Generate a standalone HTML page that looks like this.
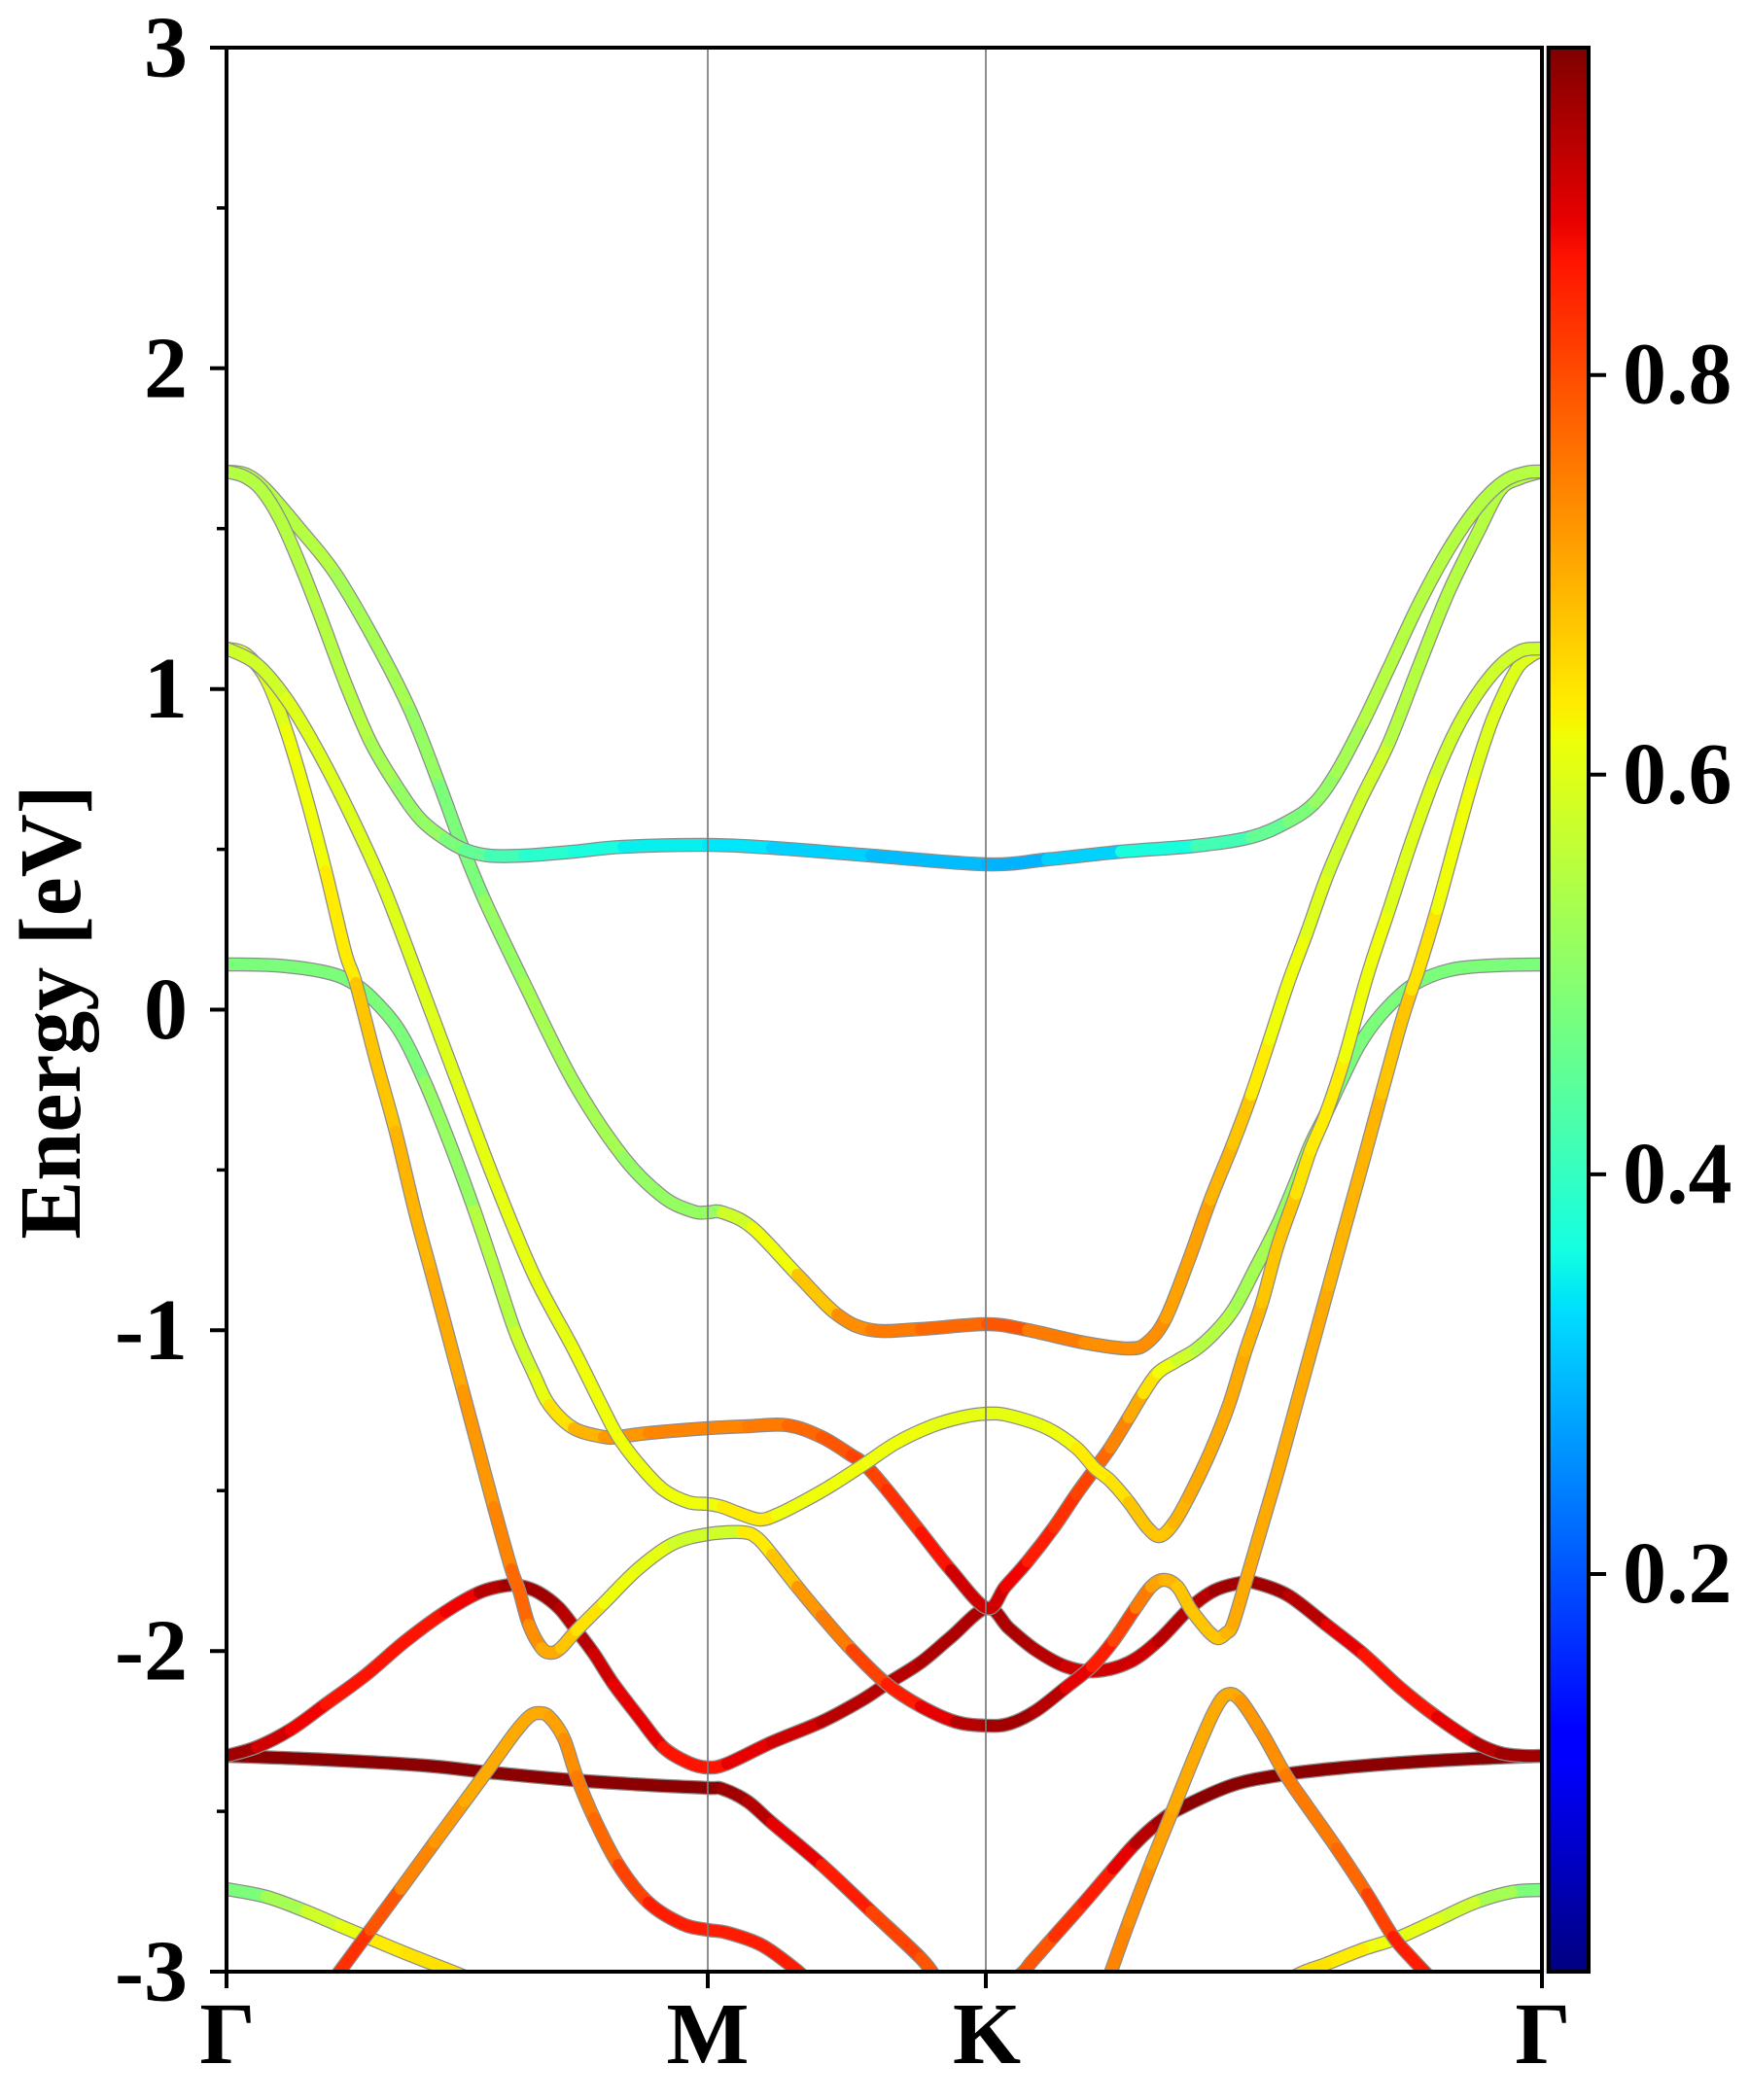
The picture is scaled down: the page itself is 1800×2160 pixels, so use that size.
<!DOCTYPE html>
<html><head><meta charset="utf-8"><style>html,body{margin:0;padding:0;background:#fff}svg{display:block}
.o{fill:none;stroke:#8c8c8c;stroke-width:14.5;stroke-linejoin:round}
.c polyline,.c path{fill:none;stroke-width:12;stroke-linejoin:round;stroke-linecap:round}
text{font-family:"Liberation Serif",serif;font-weight:bold;fill:#000}
</style></head><body>
<svg width="1800" height="2160" viewBox="0 0 1800 2160" xmlns="http://www.w3.org/2000/svg">
<defs>
<clipPath id="pc"><rect x="233" y="49" width="1353" height="1979"/></clipPath>
<linearGradient id="jet" x1="0" y1="1" x2="0" y2="0">
<stop offset="0" stop-color="#000080"/><stop offset="0.11" stop-color="#0000ff"/><stop offset="0.125" stop-color="#0000ff"/>
<stop offset="0.34" stop-color="#00dbff"/><stop offset="0.35" stop-color="#00e6f7"/><stop offset="0.375" stop-color="#14ffe2"/>
<stop offset="0.64" stop-color="#eeff08"/><stop offset="0.65" stop-color="#f7f500"/><stop offset="0.66" stop-color="#ffec00"/>
<stop offset="0.89" stop-color="#ff1300"/><stop offset="0.91" stop-color="#e80000"/><stop offset="1" stop-color="#800000"/>
</linearGradient>
</defs>
<rect width="1800" height="2160" fill="#fff"/>
<g clip-path="url(#pc)">
<!-- T7 left -->
<g class="band">
<polyline class="o" points="233,1806 335,1810 437,1816 503,1823 590,1831 667,1836 728,1839 743,1840 769,1853 794,1875 845,1918 896,1966 947,2014 963,2035"/>
<g class="c">
<polyline stroke="#8b0000" points="233,1806 335,1810 437,1816 503,1823 590,1831 667,1836 728,1839 743,1840"/>
<polyline stroke="#a20000" points="743,1840 769,1853"/>
<polyline stroke="#b90000" points="769,1853 794,1875"/>
<polyline stroke="#e80000" points="794,1875 845,1918"/>
<polyline stroke="#ff1c00" points="845,1918 896,1966"/>
<polyline stroke="#ff4200" points="896,1966 947,2014"/>
<polyline stroke="#ff5500" points="947,2014 963,2035"/>
</g></g>
<!-- T7 right -->
<g class="band">
<polyline class="o" points="1045,2035 1054,2027 1061,2018 1084,1992 1115,1957 1145,1922 1168,1896 1191,1875 1214,1860 1268,1836 1322,1825 1383,1818 1459,1812 1536,1808 1586,1806"/>
<g class="c">
<polyline stroke="#ff5500" points="1045,2035 1054,2027 1061,2018 1084,1992"/>
<polyline stroke="#ff2f00" points="1084,1992 1115,1957"/>
<polyline stroke="#ff1c00" points="1115,1957 1145,1922"/>
<polyline stroke="#e80000" points="1145,1922 1168,1896"/>
<polyline stroke="#b90000" points="1168,1896 1191,1875"/>
<polyline stroke="#a20000" points="1191,1875 1214,1860"/>
<polyline stroke="#8b0000" points="1214,1860 1268,1836 1322,1825 1383,1818 1459,1812 1536,1808 1586,1806"/>
</g></g>
<!-- T6 -->
<g class="band">
<polyline class="o" points="233,1806 264,1797 299,1779 335,1753 376,1723 417,1688 458,1658 493,1638 519,1631 534,1631 554,1638 575,1654 593,1677 611,1701 631,1732 657,1766 682,1797 708,1813 728,1818 748,1814 794,1792 845,1771 886,1749 912,1732 947,1710 978,1684 1015,1654 1038,1675 1065,1697 1096,1714 1126,1719 1161,1710 1191,1688 1224,1654 1249,1636 1276,1628 1291,1628 1325,1641 1364,1671 1402,1701 1440,1736 1478,1766 1517,1792 1543,1803 1566,1806 1586,1806"/>
<g class="c">
<polyline stroke="#a20000" points="233,1806 264,1797"/>
<polyline stroke="#d10000" points="264,1797 299,1779"/>
<polyline stroke="#f30000" points="299,1779 335,1753"/>
<polyline stroke="#ff1300" points="335,1753 376,1723 417,1688 458,1658"/>
<polyline stroke="#f30000" points="458,1658 493,1638"/>
<polyline stroke="#b90000" points="493,1638 519,1631"/>
<polyline stroke="#a20000" points="519,1631 534,1631 554,1638 575,1654"/>
<polyline stroke="#b90000" points="575,1654 593,1677 611,1701"/>
<polyline stroke="#d10000" points="611,1701 631,1732"/>
<polyline stroke="#e80000" points="631,1732 657,1766 682,1797"/>
<polyline stroke="#ff1300" points="682,1797 708,1813 728,1818 748,1814"/>
<polyline stroke="#e80000" points="748,1814 794,1792"/>
<polyline stroke="#d10000" points="794,1792 845,1771"/>
<polyline stroke="#b90000" points="845,1771 886,1749 912,1732 947,1710"/>
<polyline stroke="#ae0000" points="947,1710 978,1684 1015,1654 1038,1675 1065,1697"/>
<polyline stroke="#b90000" points="1065,1697 1096,1714"/>
<polyline stroke="#d10000" points="1096,1714 1126,1719 1161,1710 1191,1688"/>
<polyline stroke="#b90000" points="1191,1688 1224,1654 1249,1636"/>
<polyline stroke="#a20000" points="1249,1636 1276,1628 1291,1628 1325,1641"/>
<polyline stroke="#b90000" points="1325,1641 1364,1671"/>
<polyline stroke="#e80000" points="1364,1671 1402,1701"/>
<polyline stroke="#ff1300" points="1402,1701 1440,1736 1478,1766"/>
<polyline stroke="#e80000" points="1478,1766 1517,1792"/>
<polyline stroke="#b90000" points="1517,1792 1543,1803"/>
<polyline stroke="#a20000" points="1543,1803 1566,1806 1586,1806"/>
</g></g>
<!-- T9 -->
<g class="band">
<polyline class="o" points="233,1943 274,1951 315,1966 350,1981 381,1994 417,2009 463,2027 485,2036"/>
<g class="c">
<polyline stroke="#7bff7b" points="233,1943 274,1951"/>
<polyline stroke="#a5ff52" points="274,1951 315,1966"/>
<polyline stroke="#ceff29" points="315,1966 350,1981"/>
<polyline stroke="#e6ff11" points="350,1981 381,1994"/>
<polyline stroke="#ffec00" points="381,1994 417,2009"/>
<polyline stroke="#ffe300" points="417,2009 463,2027 485,2036"/>
</g></g>
<!-- T11 -->
<g class="band">
<polyline class="o" points="1586,1944 1555,1946 1517,1957 1478,1975 1436,1994 1402,2005 1364,2020 1344,2027 1325,2036"/>
<g class="c">
<polyline stroke="#7bff7b" points="1586,1944 1555,1946"/>
<polyline stroke="#a5ff52" points="1555,1946 1517,1957"/>
<polyline stroke="#ceff29" points="1517,1957 1478,1975"/>
<polyline stroke="#e6ff11" points="1478,1975 1436,1994"/>
<polyline stroke="#eeff08" points="1436,1994 1402,2005"/>
<polyline stroke="#ffec00" points="1402,2005 1364,2020"/>
<polyline stroke="#ffe300" points="1364,2020 1344,2027 1325,2036"/>
</g></g>
<!-- T8 -->
<g class="band">
<polyline class="o" points="343,2036 350,2027 381,1985 412,1943 447,1895 478,1853 503,1819 529,1783 544,1766 554,1762 565,1766 580,1788 593,1827 611,1870 636,1918 667,1957 702,1979 728,1985 748,1988 784,2001 820,2027 828,2036"/>
<g class="c">
<polyline stroke="#ff2f00" points="343,2036 350,2027 381,1985"/>
<polyline stroke="#ff5500" points="381,1985 412,1943"/>
<polyline stroke="#ff8400" points="412,1943 447,1895"/>
<polyline stroke="#ff9700" points="447,1895 478,1853"/>
<polyline stroke="#ffaa00" points="478,1853 503,1819 529,1783 544,1766 554,1762 565,1766"/>
<polyline stroke="#ffa100" points="565,1766 580,1788"/>
<polyline stroke="#ff8e00" points="580,1788 593,1827"/>
<polyline stroke="#ff7b00" points="593,1827 611,1870"/>
<polyline stroke="#ff6800" points="611,1870 636,1918"/>
<polyline stroke="#ff4200" points="636,1918 667,1957"/>
<polyline stroke="#ff1c00" points="667,1957 702,1979 728,1985 748,1988 784,2001 820,2027 828,2036"/>
</g></g>
<!-- T10 -->
<g class="band">
<polyline class="o" points="1139,2036 1142,2030 1161,1977 1184,1917 1207,1860 1230,1803 1249,1760 1262,1743 1276,1749 1299,1784 1322,1825 1344,1857 1375,1901 1406,1948 1433,1992 1452,2014 1467,2030 1472,2036"/>
<g class="c">
<polyline stroke="#ff8400" points="1139,2036 1142,2030 1161,1977"/>
<polyline stroke="#ff8e00" points="1161,1977 1184,1917"/>
<polyline stroke="#ffa100" points="1184,1917 1207,1860"/>
<polyline stroke="#ffaa00" points="1207,1860 1230,1803 1249,1760 1262,1743 1276,1749"/>
<polyline stroke="#ff9700" points="1276,1749 1299,1784"/>
<polyline stroke="#ff8e00" points="1299,1784 1322,1825"/>
<polyline stroke="#ff7b00" points="1322,1825 1344,1857 1375,1901"/>
<polyline stroke="#ff6800" points="1375,1901 1406,1948"/>
<polyline stroke="#ff4200" points="1406,1948 1433,1992"/>
<polyline stroke="#ff1c00" points="1433,1992 1452,2014 1467,2030 1472,2036"/>
</g></g>
<!-- T5 -->
<g class="band">
<polyline class="o" points="233,992 284,993 335,1000 363,1011 386,1030 412,1062 437,1113 463,1177 488,1245 510,1310 530,1370 550,1415 565,1445 590,1469 621,1478 636,1478 667,1474 728,1469 769,1467 810,1466 845,1478 876,1497 889,1506 912,1532 947,1576 978,1615 1015,1654 1034,1632 1057,1606 1084,1571 1107,1537 1126,1511 1142,1489 1161,1458 1176,1433 1191,1412 1210,1400 1230,1388 1250,1370 1270,1345 1291,1305 1314,1260 1333,1215 1348,1177 1364,1145 1379,1113 1398,1075 1421,1043 1452,1014 1490,998 1536,993 1586,992"/>
<g class="c">
<polyline stroke="#7bff7b" points="233,992 284,993 335,1000 363,1011 386,1030 412,1062 437,1113"/>
<polyline stroke="#94ff63" points="437,1113 463,1177 488,1245"/>
<polyline stroke="#b5ff42" points="488,1245 510,1310 530,1370"/>
<polyline stroke="#ceff29" points="530,1370 550,1415"/>
<polyline stroke="#e6ff11" points="550,1415 565,1445"/>
<polyline stroke="#ffe300" points="565,1445 590,1469"/>
<polyline stroke="#ffb400" points="590,1469 621,1478"/>
<polyline stroke="#ff9700" points="621,1478 636,1478 667,1474"/>
<polyline stroke="#ff8400" points="667,1474 728,1469 769,1467"/>
<polyline stroke="#ff7b00" points="769,1467 810,1466"/>
<polyline stroke="#ff6800" points="810,1466 845,1478"/>
<polyline stroke="#ff5500" points="845,1478 876,1497"/>
<polyline stroke="#ff4200" points="876,1497 889,1506 912,1532"/>
<polyline stroke="#ff2f00" points="912,1532 947,1576"/>
<polyline stroke="#ff1300" points="947,1576 978,1615"/>
<polyline stroke="#d10000" points="978,1615 1015,1654 1034,1632"/>
<polyline stroke="#f30000" points="1034,1632 1057,1606"/>
<polyline stroke="#ff1c00" points="1057,1606 1084,1571"/>
<polyline stroke="#ff2f00" points="1084,1571 1107,1537"/>
<polyline stroke="#ff4200" points="1107,1537 1126,1511"/>
<polyline stroke="#ff6800" points="1126,1511 1142,1489"/>
<polyline stroke="#ff8400" points="1142,1489 1161,1458"/>
<polyline stroke="#ffaa00" points="1161,1458 1176,1433"/>
<polyline stroke="#ffe300" points="1176,1433 1191,1412"/>
<polyline stroke="#eeff08" points="1191,1412 1210,1400"/>
<polyline stroke="#ceff29" points="1210,1400 1230,1388"/>
<polyline stroke="#b5ff42" points="1230,1388 1250,1370 1270,1345"/>
<polyline stroke="#a5ff52" points="1270,1345 1291,1305 1314,1260"/>
<polyline stroke="#94ff63" points="1314,1260 1333,1215 1348,1177 1364,1145"/>
<polyline stroke="#7bff7b" points="1364,1145 1379,1113 1398,1075 1421,1043 1452,1014 1490,998 1536,993 1586,992"/>
</g></g>
<!-- T4 -->
<g class="band">
<polyline class="o" points="233,667 253,673 274,699 294,750 315,820 335,896 355,979 366,1011 386,1088 407,1164 427,1247 444,1310 460,1370 476,1430 492,1490 508,1550 526,1614 534,1636 544,1671 557,1695 567,1700 577,1695 593,1677 621,1649 656,1614 692,1588 728,1578 764,1576 779,1582 794,1599 820,1632 845,1662 876,1697 912,1732 947,1755 983,1771 1015,1775 1038,1773 1065,1760 1096,1736 1123,1714 1145,1688 1168,1654 1184,1632 1197,1625 1211,1632 1224,1654 1237,1671 1245,1680 1253,1685 1261,1680 1268,1671 1281,1628 1295,1580 1314,1515 1333,1446 1350,1384 1367,1322 1384,1260 1402,1195 1421,1125 1440,1056 1452,1018 1459,998 1478,935 1498,862 1517,795 1536,738 1559,690 1574,675 1586,669"/>
<g class="c">
<polyline stroke="#deff19" points="233,667 253,673 274,699 294,750"/>
<polyline stroke="#eeff08" points="294,750 315,820 335,896"/>
<polyline stroke="#ffec00" points="335,896 355,979 366,1011"/>
<polyline stroke="#ffc600" points="366,1011 386,1088 407,1164"/>
<polyline stroke="#ffb400" points="407,1164 427,1247 444,1310"/>
<polyline stroke="#ffaa00" points="444,1310 460,1370 476,1430"/>
<polyline stroke="#ff9700" points="476,1430 492,1490 508,1550"/>
<polyline stroke="#ff8400" points="508,1550 526,1614"/>
<polyline stroke="#ff6800" points="526,1614 534,1636 544,1671"/>
<polyline stroke="#ff8e00" points="544,1671 557,1695"/>
<polyline stroke="#ffaa00" points="557,1695 567,1700 577,1695"/>
<polyline stroke="#ffc600" points="577,1695 593,1677"/>
<polyline stroke="#ffe300" points="593,1677 621,1649"/>
<polyline stroke="#eeff08" points="621,1649 656,1614"/>
<polyline stroke="#e6ff11" points="656,1614 692,1588"/>
<polyline stroke="#ceff29" points="692,1588 728,1578 764,1576"/>
<polyline stroke="#ffec00" points="764,1576 779,1582 794,1599"/>
<polyline stroke="#ffc600" points="794,1599 820,1632"/>
<polyline stroke="#ff9700" points="820,1632 845,1662"/>
<polyline stroke="#ff7b00" points="845,1662 876,1697"/>
<polyline stroke="#ff4200" points="876,1697 912,1732"/>
<polyline stroke="#ff1c00" points="912,1732 947,1755"/>
<polyline stroke="#e80000" points="947,1755 983,1771"/>
<polyline stroke="#b90000" points="983,1771 1015,1775"/>
<polyline stroke="#a20000" points="1015,1775 1038,1773 1065,1760"/>
<polyline stroke="#b90000" points="1065,1760 1096,1736"/>
<polyline stroke="#e80000" points="1096,1736 1123,1714"/>
<polyline stroke="#ff1c00" points="1123,1714 1145,1688"/>
<polyline stroke="#ff4200" points="1145,1688 1168,1654"/>
<polyline stroke="#ff7b00" points="1168,1654 1184,1632"/>
<polyline stroke="#ffa100" points="1184,1632 1197,1625"/>
<polyline stroke="#ffb400" points="1197,1625 1211,1632"/>
<polyline stroke="#ffc600" points="1211,1632 1224,1654 1237,1671 1245,1680 1253,1685 1261,1680"/>
<polyline stroke="#ffb400" points="1261,1680 1268,1671"/>
<polyline stroke="#ffaa00" points="1268,1671 1281,1628 1295,1580 1314,1515 1333,1446 1350,1384 1367,1322"/>
<polyline stroke="#ffb400" points="1367,1322 1384,1260 1402,1195 1421,1125"/>
<polyline stroke="#ffc600" points="1421,1125 1440,1056 1452,1018"/>
<polyline stroke="#ffe300" points="1452,1018 1459,998 1478,935"/>
<polyline stroke="#eeff08" points="1478,935 1498,862 1517,795"/>
<polyline stroke="#deff19" points="1517,795 1536,738 1559,690 1574,675 1586,669"/>
</g></g>
<!-- T3 -->
<g class="band">
<polyline class="o" points="233,667 264,683 294,718 325,769 361,839 396,916 437,1024 473,1120 509,1215 549,1311 590,1388 621,1450 636,1478 657,1506 682,1532 708,1545 728,1547 743,1550 764,1558 782,1563 799,1558 825,1545 855,1528 889,1506 922,1484 958,1467 988,1458 1015,1454 1038,1456 1077,1469 1107,1489 1126,1510 1142,1523 1161,1545 1180,1571 1193,1580 1207,1567 1222,1541 1245,1493 1264,1445 1281,1390 1298,1340 1314,1282 1333,1228 1348,1183 1364,1145 1383,1088 1406,1005 1429,935 1452,865 1478,794 1505,737 1536,692 1563,670 1586,667"/>
<g class="c">
<polyline stroke="#ceff29" points="233,667 264,683 294,718"/>
<polyline stroke="#deff19" points="294,718 325,769 361,839 396,916 437,1024 473,1120"/>
<polyline stroke="#e6ff11" points="473,1120 509,1215 549,1311 590,1388"/>
<polyline stroke="#eeff08" points="590,1388 621,1450 636,1478 657,1506 682,1532 708,1545 728,1547 743,1550"/>
<polyline stroke="#ffec00" points="743,1550 764,1558 782,1563 799,1558"/>
<polyline stroke="#eeff08" points="799,1558 825,1545 855,1528 889,1506 922,1484 958,1467"/>
<polyline stroke="#e6ff11" points="958,1467 988,1458 1015,1454 1038,1456 1077,1469"/>
<polyline stroke="#eeff08" points="1077,1469 1107,1489"/>
<polyline stroke="#ffec00" points="1107,1489 1126,1510 1142,1523"/>
<polyline stroke="#ffe300" points="1142,1523 1161,1545"/>
<polyline stroke="#ffc600" points="1161,1545 1180,1571 1193,1580 1207,1567"/>
<polyline stroke="#ffb400" points="1207,1567 1222,1541"/>
<polyline stroke="#ffaa00" points="1222,1541 1245,1493 1264,1445 1281,1390"/>
<polyline stroke="#ffb400" points="1281,1390 1298,1340"/>
<polyline stroke="#ffc600" points="1298,1340 1314,1282 1333,1228"/>
<polyline stroke="#ffe300" points="1333,1228 1348,1183"/>
<polyline stroke="#ffec00" points="1348,1183 1364,1145 1383,1088"/>
<polyline stroke="#eeff08" points="1383,1088 1406,1005 1429,935"/>
<polyline stroke="#deff19" points="1429,935 1452,865 1478,794"/>
<polyline stroke="#ceff29" points="1478,794 1505,737 1536,692 1563,670 1586,667"/>
</g></g>
<!-- T2 -->
<g class="band">
<polyline class="o" points="233,485 253,488 274,504 310,546 345,590 386,660 422,731 452,807 473,864 498,925 539,1011 590,1113 641,1190 682,1231 713,1246 728,1247 743,1247 774,1263 820,1311 861,1352 896,1368 947,1367 1015,1362 1057,1368 1115,1381 1161,1387 1180,1381 1199,1356 1222,1298 1245,1234 1268,1177 1287,1126 1306,1069 1325,1011 1344,960 1367,896 1398,826 1429,763 1459,686 1490,609 1521,546 1543,504 1563,492 1586,485"/>
<g class="c">
<polyline stroke="#b5ff42" points="233,485 253,488 274,504 310,546 345,590"/>
<polyline stroke="#a5ff52" points="345,590 386,660 422,731"/>
<polyline stroke="#94ff63" points="422,731 452,807"/>
<polyline stroke="#7bff7b" points="452,807 473,864 498,925"/>
<polyline stroke="#94ff63" points="498,925 539,1011"/>
<polyline stroke="#a5ff52" points="539,1011 590,1113 641,1190"/>
<polyline stroke="#94ff63" points="641,1190 682,1231 713,1246 728,1247 743,1247"/>
<polyline stroke="#ceff29" points="743,1247 774,1263"/>
<polyline stroke="#eeff08" points="774,1263 820,1311"/>
<polyline stroke="#ffc600" points="820,1311 861,1352"/>
<polyline stroke="#ff8e00" points="861,1352 896,1368"/>
<polyline stroke="#ff7b00" points="896,1368 947,1367"/>
<polyline stroke="#ff6800" points="947,1367 1015,1362"/>
<polyline stroke="#ff5500" points="1015,1362 1057,1368"/>
<polyline stroke="#ff7b00" points="1057,1368 1115,1381"/>
<polyline stroke="#ff8e00" points="1115,1381 1161,1387 1180,1381 1199,1356"/>
<polyline stroke="#ffa100" points="1199,1356 1222,1298 1245,1234"/>
<polyline stroke="#ffb400" points="1245,1234 1268,1177"/>
<polyline stroke="#ffc600" points="1268,1177 1287,1126"/>
<polyline stroke="#ffec00" points="1287,1126 1306,1069"/>
<polyline stroke="#eeff08" points="1306,1069 1325,1011 1344,960"/>
<polyline stroke="#deff19" points="1344,960 1367,896"/>
<polyline stroke="#ceff29" points="1367,896 1398,826 1429,763"/>
<polyline stroke="#b5ff42" points="1429,763 1459,686 1490,609 1521,546 1543,504 1563,492 1586,485"/>
</g></g>
<!-- T1 -->
<g class="band">
<polyline class="o" points="233,485 251,490 269,504 289,536 310,584 330,635 355,702 381,763 407,807 432,842 458,863 478,874 503,880 539,880 590,876 641,871 728,869 794,872 896,880 1014,889 1077,884 1153,876 1230,870 1287,861 1325,845 1352,826 1375,794 1402,743 1429,686 1459,622 1490,565 1521,520 1547,495 1570,486 1586,485"/>
<g class="c">
<polyline stroke="#b5ff42" points="233,485 251,490 269,504 289,536 310,584 330,635 355,702 381,763"/>
<polyline stroke="#a5ff52" points="381,763 407,807"/>
<polyline stroke="#94ff63" points="407,807 432,842 458,863"/>
<polyline stroke="#7bff7b" points="458,863 478,874"/>
<polyline stroke="#63ff94" points="478,874 503,880"/>
<polyline stroke="#42ffb5" points="503,880 539,880"/>
<polyline stroke="#29ffce" points="539,880 590,876"/>
<polyline stroke="#19ffde" points="590,876 641,871"/>
<polyline stroke="#08f0ee" points="641,871 728,869"/>
<polyline stroke="#00e6fa" points="728,869 794,872"/>
<polyline stroke="#00d1ff" points="794,872 896,880"/>
<polyline stroke="#00bdff" points="896,880 1014,889"/>
<polyline stroke="#00b3ff" points="1014,889 1077,884"/>
<polyline stroke="#00d1ff" points="1077,884 1153,876"/>
<polyline stroke="#19ffde" points="1153,876 1230,870"/>
<polyline stroke="#42ffb5" points="1230,870 1287,861"/>
<polyline stroke="#63ff94" points="1287,861 1325,845"/>
<polyline stroke="#7bff7b" points="1325,845 1352,826"/>
<polyline stroke="#94ff63" points="1352,826 1375,794"/>
<polyline stroke="#a5ff52" points="1375,794 1402,743"/>
<polyline stroke="#b5ff42" points="1402,743 1429,686 1459,622 1490,565 1521,520 1547,495 1570,486 1586,485"/>
</g></g>
</g>
<!-- high-symmetry lines -->
<line x1="728" y1="49" x2="728" y2="2028" stroke="#7a7a7a" stroke-width="2" stroke-opacity="0.85"/>
<line x1="1014" y1="49" x2="1014" y2="2028" stroke="#7a7a7a" stroke-width="2" stroke-opacity="0.85"/>
<!-- axes frame -->
<rect x="233" y="49" width="1353" height="1979" fill="none" stroke="#000" stroke-width="4"/>
<!-- y ticks -->
<g stroke="#000" stroke-width="4">
<line x1="216" y1="49" x2="233" y2="49"/>
<line x1="216" y1="378.8" x2="233" y2="378.8"/>
<line x1="216" y1="708.7" x2="233" y2="708.7"/>
<line x1="216" y1="1038.5" x2="233" y2="1038.5"/>
<line x1="216" y1="1368.3" x2="233" y2="1368.3"/>
<line x1="216" y1="1698.2" x2="233" y2="1698.2"/>
<line x1="216" y1="2028" x2="233" y2="2028"/>
</g>
<g stroke="#000" stroke-width="3.5">
<line x1="223" y1="213.9" x2="233" y2="213.9"/>
<line x1="223" y1="543.7" x2="233" y2="543.7"/>
<line x1="223" y1="873.6" x2="233" y2="873.6"/>
<line x1="223" y1="1203.4" x2="233" y2="1203.4"/>
<line x1="223" y1="1533.2" x2="233" y2="1533.2"/>
<line x1="223" y1="1863.1" x2="233" y2="1863.1"/>
</g>
<!-- x ticks -->
<g stroke="#000" stroke-width="4">
<line x1="233" y1="2028" x2="233" y2="2045"/>
<line x1="728" y1="2028" x2="728" y2="2045"/>
<line x1="1014" y1="2028" x2="1014" y2="2045"/>
<line x1="1586" y1="2028" x2="1586" y2="2045"/>
</g>
<!-- y tick labels -->
<g font-size="90" text-anchor="end">
<text x="193" y="78.5">3</text>
<text x="193" y="408.3">2</text>
<text x="193" y="738.2">1</text>
<text x="193" y="1068">0</text>
<text x="193" y="1397.8">-1</text>
<text x="193" y="1727.7">-2</text>
<text x="193" y="2057.5">-3</text>
</g>
<!-- x labels -->
<g font-size="90" text-anchor="middle">
<text x="234" y="2122">Γ</text>
<text x="728" y="2122">M</text>
<text x="1015" y="2122">K</text>
<text x="1587" y="2122">Γ</text>
</g>
<!-- y axis label -->
<text font-size="90" text-anchor="middle" transform="translate(82,1041) rotate(-90)">Energy [eV]</text>
<!-- colorbar -->
<rect x="1592.7" y="49" width="41.3" height="1979" fill="url(#jet)" stroke="#000" stroke-width="4"/>
<g stroke="#000" stroke-width="4">
<line x1="1634" y1="385.7" x2="1652" y2="385.7"/>
<line x1="1634" y1="796.8" x2="1652" y2="796.8"/>
<line x1="1634" y1="1207.9" x2="1652" y2="1207.9"/>
<line x1="1634" y1="1619" x2="1652" y2="1619"/>
</g>
<g font-size="90" text-anchor="start">
<text x="1669" y="414.7">0.8</text>
<text x="1669" y="825.8">0.6</text>
<text x="1669" y="1236.9">0.4</text>
<text x="1669" y="1648">0.2</text>
</g>
</svg>
<script>
(function(){
function parse(s){return s.trim().split(/\s+/).map(function(t){var a=t.split(',');return [+a[0],+a[1]];});}
function seg(P,i0,i1){var d='M'+P[i0][0]+','+P[i0][1];for(var i=i0;i<i1;i++){var p0=P[Math.max(i-1,0)],p1=P[i],p2=P[i+1],p3=P[Math.min(i+2,P.length-1)];var c1x=p1[0]+(p2[0]-p0[0])/6,c1y=p1[1]+(p2[1]-p0[1])/6,c2x=p2[0]-(p3[0]-p1[0])/6,c2y=p2[1]-(p3[1]-p1[1])/6;d+=' C'+c1x.toFixed(2)+','+c1y.toFixed(2)+' '+c2x.toFixed(2)+','+c2y.toFixed(2)+' '+p2[0]+','+p2[1];}return d;}
try{
var NS='http://www.w3.org/2000/svg';
var bands=document.querySelectorAll('g.band');
for(var b=0;b<bands.length;b++){
var g=bands[b];var o=g.querySelector('polyline.o');if(!o)continue;
var P=parse(o.getAttribute('points'));var idx={};
for(var i=0;i<P.length;i++){var k=P[i][0]+','+P[i][1];if(!(k in idx))idx[k]=i;}
var po=document.createElementNS(NS,'path');po.setAttribute('class','o');po.setAttribute('d',seg(P,0,P.length-1));o.parentNode.replaceChild(po,o);
var runs=g.querySelectorAll('g.c polyline');
for(var r=0;r<runs.length;r++){
var q=runs[r];var pts=parse(q.getAttribute('points'));var k0=pts[0][0]+','+pts[0][1];
if(!(k0 in idx))continue;var i0=idx[k0];var i1=i0+pts.length-1;if(i1>=P.length)continue;
var pe=document.createElementNS(NS,'path');pe.setAttribute('d',seg(P,i0,i1));pe.setAttribute('stroke',q.getAttribute('stroke'));q.parentNode.replaceChild(pe,q);}
}
}catch(e){}
})();
</script>
</body></html>
